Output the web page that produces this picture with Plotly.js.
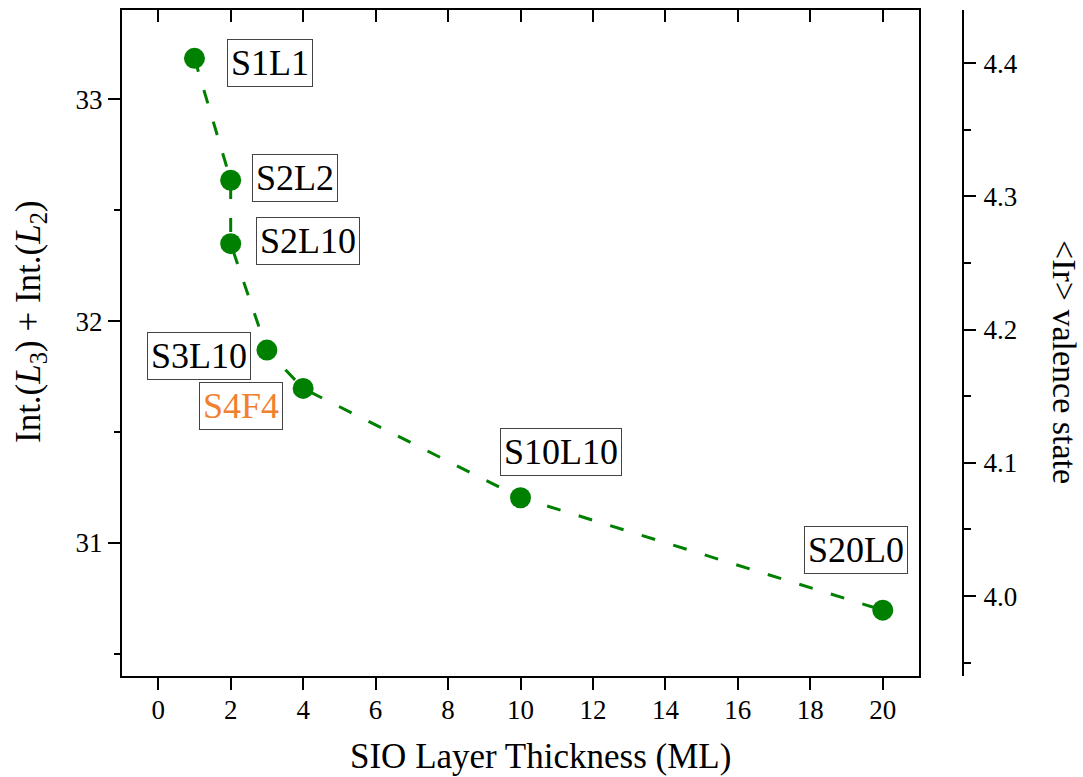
<!DOCTYPE html>
<html>
<head>
<meta charset="utf-8">
<script src="https://cdn.plot.ly/plotly-3.0.1.min.js"></script>
<style>html,body{margin:0;padding:0;background:#fff;}#chart{width:1083px;height:777px;}</style>
</head>
<body>
<div id="chart"></div>
<script>
// Data
const sampleNames = ["S1L1", "S2L2", "S2L10", "S3L10", "S4F4", "S10L10", "S20L0"];
const thicknessML = [1, 2, 2, 3, 4, 10, 20];
const intensitySum = [33.185, 32.635, 32.349, 31.869, 31.696, 31.203, 30.696];

const xTickVals = [0, 2, 4, 6, 8, 10, 12, 14, 16, 18, 20];
const yTickVals = [31, 32, 33];
const y2TickVals = [4.0, 4.1, 4.2, 4.3, 4.4];

// Label placement (pixel offsets from each point) and colours
const labelDX = [76, 64, 77, -68, -62, 40, -27];
const labelDY = [5, -2, -2.5, 5.5, 18, -46, -60.5];
const labelColors = ["#000", "#000", "#000", "#000", "#F0812F", "#000", "#000"];

const FONT = "Liberation Serif, Times New Roman, serif";
const GREEN = "#008000";

const traces = [
  {
    x: thicknessML, y: intensitySum, type: "scatter", mode: "lines+markers",
    line: {color: GREEN, width: 3, dash: "14px,19px"},
    marker: {color: GREEN, size: 21},
    showlegend: false, hoverinfo: "x+y"
  },
  {x: [], y: [], xaxis: "x", yaxis: "y2", type: "scatter", showlegend: false, hoverinfo: "skip"},
  {x: [], y: [], xaxis: "x2", yaxis: "y", type: "scatter", showlegend: false, hoverinfo: "skip"}
];

const annotations = sampleNames.map((name, i) => ({
  x: thicknessML[i], y: intensitySum[i], xref: "x", yref: "y",
  xanchor: "center", yanchor: "middle",
  text: name, showarrow: false,
  xshift: labelDX[i], yshift: -labelDY[i],
  font: {family: FONT, size: 36, color: labelColors[i]},
  bordercolor: "#444", borderwidth: 1, borderpad: 3, bgcolor: "rgba(255,255,255,0)"
}));

annotations.push(
  {xref: "paper", yref: "paper", x: 0.4976, y: -0.1216, xanchor: "center", yanchor: "middle", showarrow: false,
   text: "SIO Layer Thickness (ML)", font: {family: FONT, size: 35, color: "#000"}},
  {xref: "paper", yref: "paper", x: -0.1094, y: 0.533, xanchor: "center", yanchor: "middle", showarrow: false, textangle: -90,
   text: "Int.(<i>L</i><sub>3</sub>) + Int.(<i>L</i><sub>2</sub>)", font: {family: FONT, size: 35, color: "#000"}},
  {xref: "paper", yref: "paper", x: 1.1201, y: 0.4715, xanchor: "center", yanchor: "middle", showarrow: false, textangle: 90,
   text: "&lt;Ir&gt; valence state", font: {family: FONT, size: 34, color: "#000"}}
);

const xDomainEnd = 797 / 841;

const layout = {
  width: 1083, height: 777,
  margin: {l: 122, r: 120, t: 10, b: 101, pad: 0},
  paper_bgcolor: "#fff", plot_bgcolor: "#fff",
  font: {family: FONT, size: 27, color: "#000"},
  showlegend: false,
  xaxis: {
    domain: [0, xDomainEnd], range: [-1, 21],
    tickvals: xTickVals, ticks: "outside", ticklen: 12, tickwidth: 2, tickcolor: "#000",
    showline: true, linewidth: 2, linecolor: "#000", showgrid: false, zeroline: false,
    tickfont: {family: FONT, size: 27, color: "#000"}, ticklabelstandoff: -3
  },
  xaxis2: {
    overlaying: "x", side: "top", anchor: "y", domain: [0, xDomainEnd], range: [-1, 21],
    tickvals: xTickVals, ticks: "inside", ticklen: 12, tickwidth: 2, tickcolor: "#000",
    showticklabels: false, showline: true, linewidth: 2, linecolor: "#000",
    showgrid: false, zeroline: false
  },
  yaxis: {
    range: [30.399, 33.403], tickvals: yTickVals,
    ticks: "outside", ticklen: 12, tickwidth: 2, tickcolor: "#000",
    minor: {dtick: 0.5, tick0: 30, ticks: "outside", ticklen: 6, tickwidth: 2, tickcolor: "#000", showgrid: false},
    showline: true, mirror: true, linewidth: 2, linecolor: "#000", showgrid: false, zeroline: false,
    tickfont: {family: FONT, size: 27, color: "#000"}, ticklabelstandoff: 0
  },
  yaxis2: {
    overlaying: "y", side: "right", anchor: "free", position: 1,
    range: [3.94, 4.44], tickvals: y2TickVals, tickformat: ".1f",
    ticks: "outside", ticklen: 12, tickwidth: 2, tickcolor: "#000",
    minor: {dtick: 0.05, tick0: 3.95, ticks: "outside", ticklen: 7, tickwidth: 2, tickcolor: "#000", showgrid: false},
    showline: true, linewidth: 2, linecolor: "#000", showgrid: false, zeroline: false,
    tickfont: {family: FONT, size: 27, color: "#000"}, ticklabelstandoff: 2
  },
  annotations: annotations
};

Plotly.newPlot("chart", traces, layout, {displayModeBar: false, staticPlot: true});
</script>
</body>
</html>
